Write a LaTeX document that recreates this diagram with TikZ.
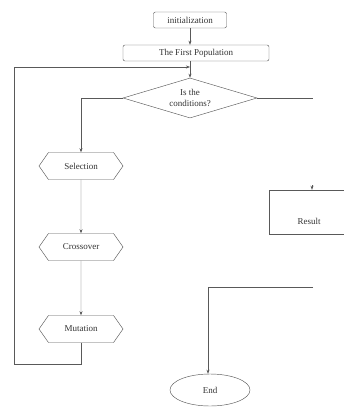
\documentclass[tikz,border=0pt]{standalone}
\usepackage{fontspec}
\setmainfont{Liberation Serif}
\usetikzlibrary{shapes.geometric,shapes.symbols,arrows.meta}

\begin{document}
\begin{tikzpicture}
    [   x=1pt, y=-1pt, line width=0.45pt, color=black!65,
        >={Stealth[length=4pt,width=3pt]},
        txt/.style={font=\fontsize{9}{10.5}\selectfont, text=black!80},
        box/.style={draw,txt,rounded corners=2pt,minimum height=16pt,inner sep=0pt},
        hexa/.style={draw,txt,signal,signal to=west and east,signal pointer angle=110,
                     minimum width=84pt,minimum height=27pt,inner sep=0pt},
        cnode/.style={draw,txt,diamond,aspect=3.35,minimum width=134pt,minimum height=40pt,
                      inner sep=0pt,align=center},
    ]
        \clip (0,0) rectangle (344,414);

        % draw the nodes
        \node[box, minimum width=73pt] (init) at (190,20) {initialization};
        \node[box, minimum width=146pt] (first) at (196,53) {The First Population};
        \node[cnode] (cond) at (190,98) {Is the\\conditions?};
        \node[hexa] (sel) at (81,166) {Selection};
        \node[hexa] (cross) at (81,247) {Crossover};
        \node[hexa] (mut) at (81,329) {Mutation};
        \node[draw, minimum width=101pt, minimum height=44pt] (result) at (319.5,212) {};
        \node[txt] (restxt) at (309,221) {Result};
        \node[draw, txt, ellipse, minimum width=80pt, minimum height=32pt] (end) at (210,390) {End};

        % helper points
        \coordinate (join) at (190,67);
        \coordinate (loop) at (14,364);
        \coordinate (condout) at (313,98);
        \coordinate (resin) at (312,185);
        \coordinate (endin) at (313,287);

        % draw the lines
        \draw[->] (init.south) -- (init.south |- first.north);
        \draw (first.south -| cond.north) -- (join);
        \draw[->] (join) -- (cond.north);
        \draw[->] (cond.west) -| (sel.north);
        \draw (cond.east) -- (condout);
        \draw[->] (sel) -- (cross);
        \draw[->] (cross) -- (mut);
        \draw[->] (mut.south) |- (loop) |- (join);
        \draw[->] (resin) -- (resin |- result.north);
        \draw[->] (endin) -| ([xshift=-2pt]end.north);
    \end{tikzpicture}
\end{document}
